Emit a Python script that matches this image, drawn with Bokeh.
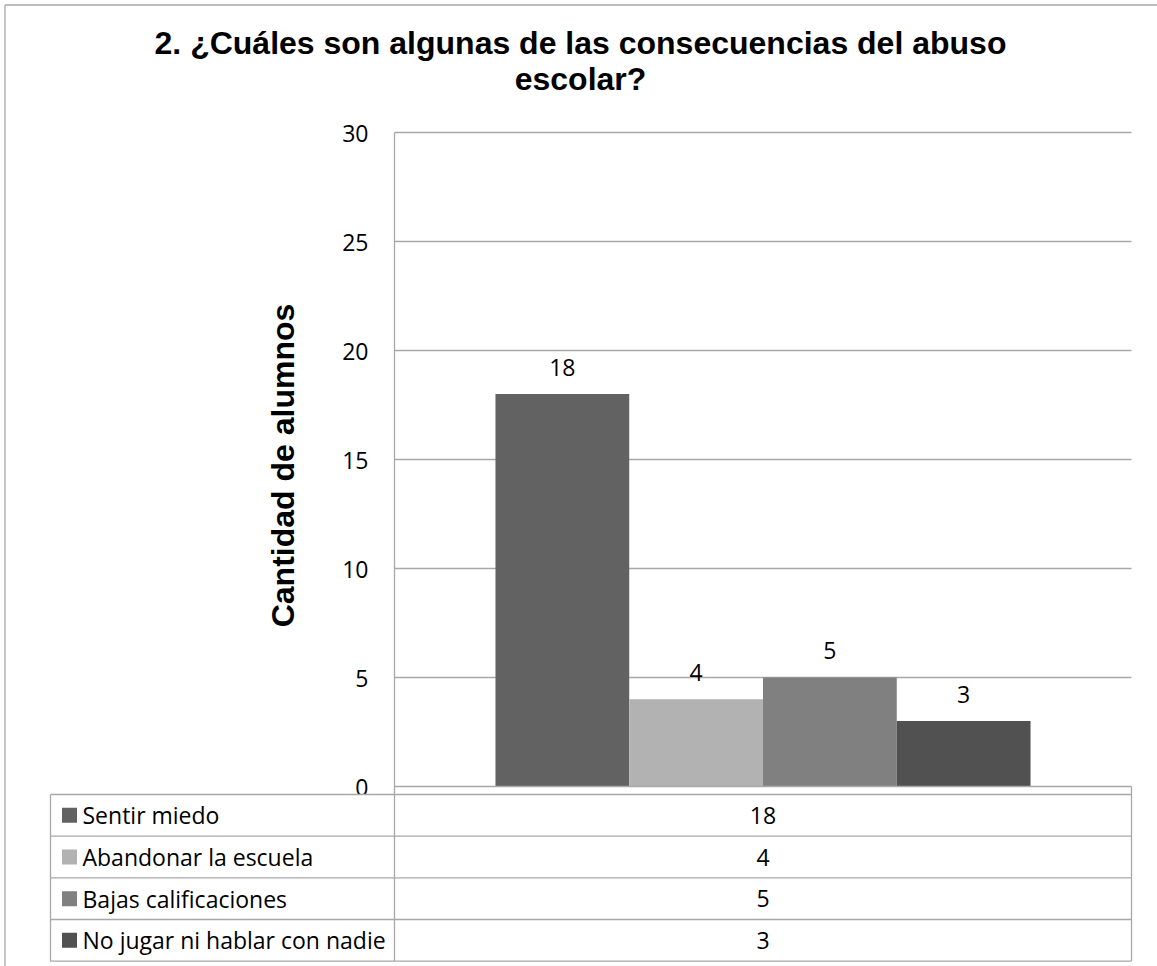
import math
from bokeh.plotting import figure
from bokeh.models import Range1d
from bokeh.core.properties import value
from bokeh.embed import file_html
from bokeh.resources import INLINE

# ---------------- data ----------------
title_lines = ["2. ¿Cuáles son algunas de las consecuencias del abuso", "escolar?"]
y_label = "Cantidad de alumnos"
categories = ["Sentir miedo", "Abandonar la escuela", "Bajas calificaciones", "No jugar ni hablar con nadie"]
counts = [18, 4, 5, 3]
colors = ["#626262", "#b2b2b2", "#808080", "#515151"]
y_ticks = [0, 5, 10, 15, 20, 25, 30]

# ---------------- layout (image pixels) ----------------
ORIGIN = 0            # canvas top-left in image pixels
W, H = 1157, 966
PX_L, PX_R = 394, 1131  # plot area left/right
PY_T, PY_B = 132, 786   # plot area top/bottom
Y_MAX = 30
GRID = "#a8a8a8"
TABLE_L = 50
TABLE_T = 794
ROW_H = 41.67
CLUSTER = 0.726        # fraction of category width used by the bars
NUM_FONT = "Open Sans"


def fx(px):
    return (px - PX_L) / (PX_R - PX_L)


def fy(py):
    return (PY_B - py) / (PY_B - PY_T) * Y_MAX


p = figure(width=W, height=H, output_backend="svg", toolbar_location=None,
           x_range=Range1d(fx(ORIGIN), fx(ORIGIN + W)),
           y_range=Range1d(fy(ORIGIN + H), fy(ORIGIN)),
           x_axis_type=None, y_axis_type=None, min_border=0)
p.grid.visible = False
p.outline_line_color = None
p.background_fill_color = "white"
p.border_fill_color = "white"

# outer chart border (left and top edges visible)
p.segment(x0=[fx(4.5)], y0=[fy(4.5)], x1=[fx(4.5)], y1=[fy(ORIGIN + H)], line_color="#a8a8a8", line_width=1.3)
p.segment(x0=[fx(4.5)], y0=[fy(4.5)], x1=[fx(ORIGIN + W)], y1=[fy(4.5)], line_color="#a8a8a8", line_width=1.3)

# horizontal gridlines
grid_vals = [t for t in y_ticks if t > 0]
p.segment(x0=[0] * len(grid_vals), x1=[1] * len(grid_vals), y0=grid_vals, y1=grid_vals,
          line_color=GRID, line_width=1.3)

# bars (clustered series within one category)
n = len(counts)
bw = CLUSTER / n
xs = [0.5 + (i - (n - 1) / 2) * bw for i in range(n)]
p.vbar(x=xs, top=counts, bottom=0, width=bw, fill_color=colors, line_color=None)

# data labels
p.text(x=xs, y=counts, text=[str(c) for c in counts], text_align="center",
       text_baseline="middle", y_offset=-27, text_font=value(NUM_FONT),
       text_font_size="23px", text_color="#000000")

# tick labels
p.text(x=[fx(368)] * len(y_ticks), y=y_ticks, text=[str(t) for t in y_ticks],
       text_align="right", text_baseline="middle", y_offset=1,
       text_font=value(NUM_FONT), text_font_size="23px", text_color="#000000")

# y-axis title
p.text(x=[fx(282.5)], y=[fy(465)], text=[y_label], angle=math.pi / 2,
       text_align="center", text_baseline="middle",
       text_font=value("Liberation Sans"), text_font_style="bold",
       text_font_size="32px", text_color="#000000")

# chart title
p.text(x=[fx(580)] * 2, y=[fy(42), fy(78)], text=title_lines, text_align="center",
       text_baseline="middle", text_font=value("Liberation Sans"),
       text_font_style="bold", text_font_size="32px", text_color="#000000")

# ---------------- data table ----------------
row_edges = [TABLE_T + ROW_H * i for i in range(n + 1)]
# white table background (covers lower part of the "0" tick label as in the original)
p.quad(left=[fx(TABLE_L)], right=[1], top=[fy(TABLE_T)], bottom=[fy(row_edges[-1])],
       fill_color="white", line_color=None)

# axis lines
p.segment(x0=[0], y0=[0], x1=[1], y1=[0], line_color=GRID, line_width=1.3)
p.segment(x0=[0], y0=[Y_MAX], x1=[0], y1=[fy(row_edges[-1])], line_color=GRID, line_width=1.3)

p.segment(x0=[fx(TABLE_L)] * len(row_edges), x1=[1] * len(row_edges),
          y0=[fy(r) for r in row_edges], y1=[fy(r) for r in row_edges],
          line_color=GRID, line_width=1.3)
p.segment(x0=[fx(TABLE_L), 1], x1=[fx(TABLE_L), 1],
          y0=[fy(TABLE_T), 0], y1=[fy(row_edges[-1])] * 2,
          line_color=GRID, line_width=1.3)

row_centers = [fy(TABLE_T + ROW_H * (i + 0.5)) for i in range(n)]
# legend keys
p.rect(x=[fx(69)] * n, y=row_centers, width=15, height=15,
       width_units="screen", height_units="screen", fill_color=colors, line_color=None)
# category names
p.text(x=[fx(82)] * n, y=row_centers, text=categories, text_align="left",
       text_baseline="middle", y_offset=0, text_font=value(NUM_FONT),
       text_font_size="23px", text_color="#000000")
# values
p.text(x=[0.5] * n, y=row_centers, text=[str(c) for c in counts], text_align="center",
       text_baseline="middle", y_offset=0, text_font=value(NUM_FONT),
       text_font_size="23px", text_color="#000000")

open("out.html", "w").write(file_html(p, INLINE))
